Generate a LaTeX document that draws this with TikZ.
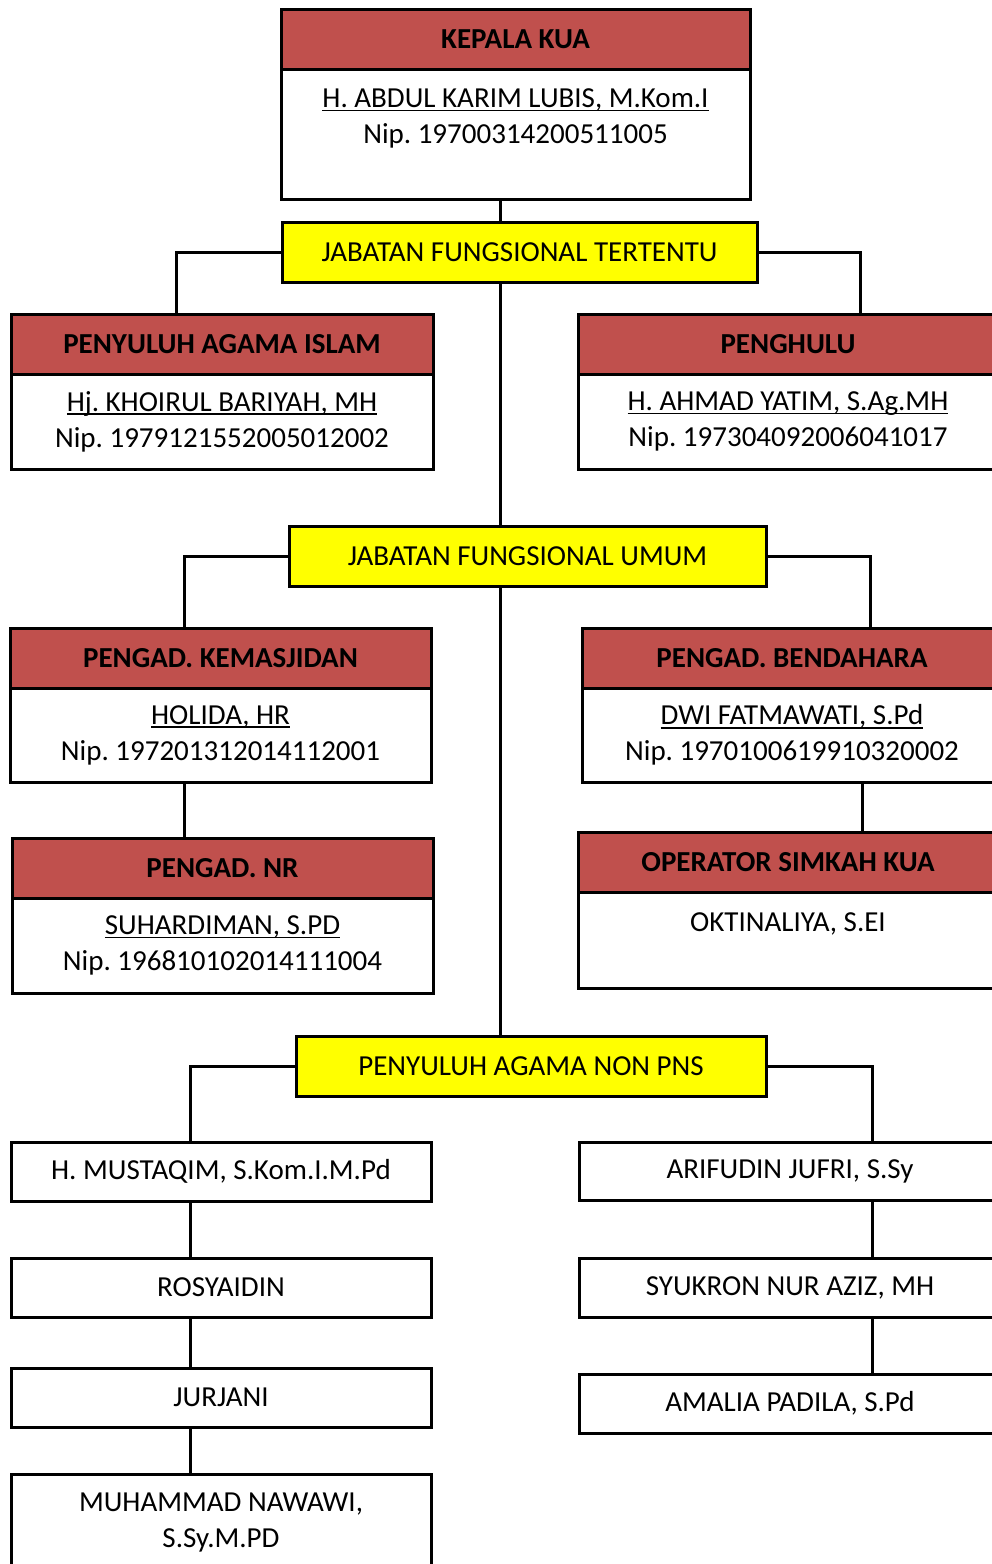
\documentclass[tikz,border=0pt]{standalone}
\usepackage{fontspec}
\setmainfont{Carlito}
\usetikzlibrary{positioning}

\definecolor{judulmerah}{HTML}{C0504D}
\definecolor{jabkuning}{HTML}{FFFF00}

\newsavebox{\kotakteks}
\newcommand{\garisbawah}[1]{\sbox{\kotakteks}{#1}\rlap{\rule[-3.8pt]{\wd\kotakteks}{1.6pt}}\usebox{\kotakteks}}

\tikzset{
  kotak/.style={draw, line width=3pt, inner sep=0pt, outer sep=0pt, align=center, anchor=north west},
  judul/.style={kotak, fill=judulmerah, minimum height=60pt, font=\fontsize{29}{36}\selectfont\bfseries},
  isi/.style={kotak, fill=white},
  jabatan/.style={kotak, fill=jabkuning, minimum height=60pt},
  garis/.style={line width=3pt},
}

\begin{document}
\begin{tikzpicture}[x=1pt,y=-1pt]
    \fontsize{29}{36}\selectfont\frenchspacing
    \useasboundingbox (0,0) rectangle (992,1564);

    % kepala
    \node[judul, minimum width=469pt] (kepala) at (281,9) {KEPALA KUA};
    \node[isi, minimum width=469pt, minimum height=130pt, below=0pt of kepala] (kepalaisi)
        {\garisbawah{H. ABDUL KARIM LUBIS, M.Kom.I}\\ Nip. 19700314200511005\\ \mbox{}};

    % jabatan fungsional tertentu
    \node[jabatan, minimum width=475pt] (jft) at (282,222) {JABATAN FUNGSIONAL TERTENTU};

    \node[judul, minimum width=422pt] (pai) at (11,314) {PENYULUH AGAMA ISLAM};
    \node[isi, minimum width=422pt, minimum height=95pt, below=0pt of pai] (paiisi)
        {\garisbawah{Hj. KHOIRUL BARIYAH, MH}\\ Nip. 1979121552005012002};
    \node[judul, minimum width=420pt] (penghulu) at (578,314) {PENGHULU};
    \node[isi, minimum width=420pt, minimum height=95pt, below=0pt of penghulu] (penghuluisi)
        {\garisbawah{H. AHMAD YATIM, S.Ag.MH}\\ Nip. 197304092006041017};

    % jabatan fungsional umum
    \node[jabatan, minimum width=477pt] (jfu) at (289,526) {JABATAN FUNGSIONAL UMUM};

    \node[judul, minimum width=421pt] (masjid) at (10,628) {PENGAD. KEMASJIDAN};
    \node[isi, minimum width=421pt, minimum height=94pt, below=0pt of masjid] (masjidisi)
        {\garisbawah{HOLIDA, HR}\\ Nip. 197201312014112001};
    \node[judul, minimum width=421pt] (nr) at (12,838) {PENGAD. NR};
    \node[isi, minimum width=421pt, minimum height=95pt, below=0pt of nr] (nrisi)
        {\garisbawah{SUHARDIMAN, S.PD}\\ Nip. 196810102014111004};

    \node[judul, minimum width=420pt] (bendahara) at (582,628) {PENGAD. BENDAHARA};
    \node[isi, minimum width=420pt, minimum height=94pt, below=0pt of bendahara] (bendaharaisi)
        {\garisbawah{DWI FATMAWATI, S.Pd}\\ Nip. 1970100619910320002};
    \node[judul, minimum width=420pt] (operator) at (578,832) {OPERATOR SIMKAH KUA};
    \node[isi, minimum width=420pt, minimum height=96pt, below=0pt of operator] (operatorisi)
        {OKTINALIYA, S.EI\\ \mbox{}};

    % penyuluh non pns
    \node[jabatan, minimum width=470pt] (nonpns) at (296,1036) {PENYULUH AGAMA NON PNS};

    \node[isi, minimum width=420pt, minimum height=59pt] (mustaqim) at (11,1142) {H. MUSTAQIM, S.Kom.I.M.Pd};
    \node[isi, minimum width=420pt, minimum height=59pt] (rosyaidin) at (11,1258) {ROSYAIDIN};
    \node[isi, minimum width=420pt, minimum height=59pt] (jurjani) at (11,1368) {JURJANI};
    \node[isi, minimum width=420pt, minimum height=98pt] (nawawi) at (11,1474) {MUHAMMAD NAWAWI,\\ S.Sy.M.PD};

    \node[isi, minimum width=422pt, minimum height=58pt] (arifudin) at (579,1142) {ARIFUDIN JUFRI, S.Sy};
    \node[isi, minimum width=422pt, minimum height=59pt] (syukron) at (579,1258) {SYUKRON NUR AZIZ, MH};
    \node[isi, minimum width=422pt, minimum height=59pt] (amalia) at (579,1374) {AMALIA PADILA, S.Pd};

    % jalur garis
    \coordinate (batang) at (500,0);
    \coordinate (kolA) at (176,0);
    \coordinate (kolB) at (860,0);
    \coordinate (kolC) at (184,0);
    \coordinate (kolD) at (870,0);
    \coordinate (kolE) at (862,0);
    \coordinate (kolF) at (190,0);
    \coordinate (kolG) at (872,0);

    \draw[garis] (kepalaisi.south -| batang) -- (jft.north -| batang);
    \draw[garis] (jft.west) -| (pai.north -| kolA);
    \draw[garis] (jft.east) -| (penghulu.north -| kolB);
    \draw[garis] (jft.south -| batang) -- (jfu.north -| batang);

    \draw[garis] (jfu.west) -| (masjid.north -| kolC);
    \draw[garis] (jfu.east) -| (bendahara.north -| kolD);
    \draw[garis] (masjidisi.south -| kolC) -- (nr.north -| kolC);
    \draw[garis] (bendaharaisi.south -| kolE) -- (operator.north -| kolE);
    \draw[garis] (jfu.south -| batang) -- (nonpns.north -| batang);

    \draw[garis] (nonpns.west) -| (mustaqim.north -| kolF);
    \draw[garis] (nonpns.east) -| (arifudin.north -| kolG);
    \draw[garis] (mustaqim.south -| kolF) -- (rosyaidin.north -| kolF);
    \draw[garis] (rosyaidin.south -| kolF) -- (jurjani.north -| kolF);
    \draw[garis] (jurjani.south -| kolF) -- (nawawi.north -| kolF);
    \draw[garis] (arifudin.south -| kolG) -- (syukron.north -| kolG);
    \draw[garis] (syukron.south -| kolG) -- (amalia.north -| kolG);
\end{tikzpicture}
\end{document}
